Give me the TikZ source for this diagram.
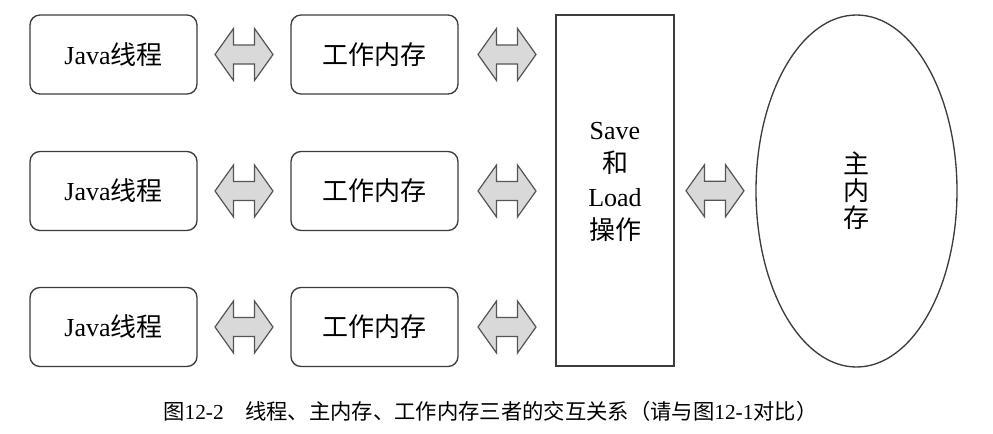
\documentclass[tikz,border=0pt]{standalone}
\usepackage{fontspec}
\setmainfont{Liberation Serif}
\newfontfamily\zh{Noto Sans CJK SC}
\usetikzlibrary{calc,shapes.geometric}
\definecolor{linegray}{HTML}{3C3C3C}
\definecolor{arrowfill}{HTML}{D9D9D9}
\definecolor{arrowline}{HTML}{555555}
\begin{document}
\begin{tikzpicture}[x=0.75pt,y=-0.75pt,
  roundbox/.style={draw=linegray, line width=1pt, rounded corners=7.5pt,
    minimum width=167*0.75pt, minimum height=79*0.75pt, inner sep=0pt,
    font=\fontsize{19.5}{24}\selectfont},
  opbox/.style={draw=linegray, line width=1pt, minimum width=118*0.75pt,
    minimum height=351*0.75pt, inner sep=0pt},
  mainmem/.style={draw=linegray, line width=1pt, ellipse, minimum width=201*0.75pt,
    minimum height=352*0.75pt, inner sep=0pt, align=center,
    font=\fontsize{19.5}{20.3}\selectfont\zh},
  optext/.style={align=center, inner sep=0pt, font=\fontsize{19.5}{25}\selectfont},
  captext/.style={inner sep=0pt, font=\fontsize{16}{18}\selectfont},
  arrowshape/.style={draw=arrowline, fill=arrowfill, line width=0.9pt, line join=miter},
  dblarr/.pic={\draw[arrowshape] (-29,0) -- (-10.5,-26) -- (-10.5,-9.5) -- (10.5,-9.5)
     -- (10.5,-26) -- (29,0) -- (10.5,26) -- (10.5,9.5) -- (-10.5,9.5) -- (-10.5,26) -- cycle;}
]
\useasboundingbox (0,0) rectangle (993,433);

% thread boxes
\node[roundbox] (j1) at (113.5,54.5) {Java{\zh 线程}};
\node[roundbox] (j2) at (113.5,191) {Java{\zh 线程}};
\node[roundbox] (j3) at (113.5,327) {Java{\zh 线程}};
% working memory boxes
\node[roundbox] (w1) at (374.5,54.5) {\zh 工作内存};
\node[roundbox] (w2) at (374.5,191) {\zh 工作内存};
\node[roundbox] (w3) at (374.5,327) {\zh 工作内存};
% save/load box
\node[opbox] (op) at (615,190.5) {};
\node[optext] (optxt) at (615,182) {Save\\{\zh 和}\\Load\\{\zh 操作}};
% main memory
\node[mainmem] (mm) at (856.5,191) {主\\内\\存};

% double arrows
\foreach \i in {1,2,3}{
  \pic at ($(j\i.east)!0.5!(w\i.west)$) {dblarr};
  \pic at ($(w\i.east)!0.5!(w\i.east -| op.west)$) {dblarr};
}
\pic at ($(op.east)!0.5!(mm.west)$) {dblarr};

% caption
\node[captext, anchor=west] (cap) at (163,411)
  {{\zh 图}12-2\hspace{1em}{\zh 线程、主内存、工作内存三者的交互关系（请与图}12-1{\zh 对比）}};
\end{tikzpicture}
\end{document}
